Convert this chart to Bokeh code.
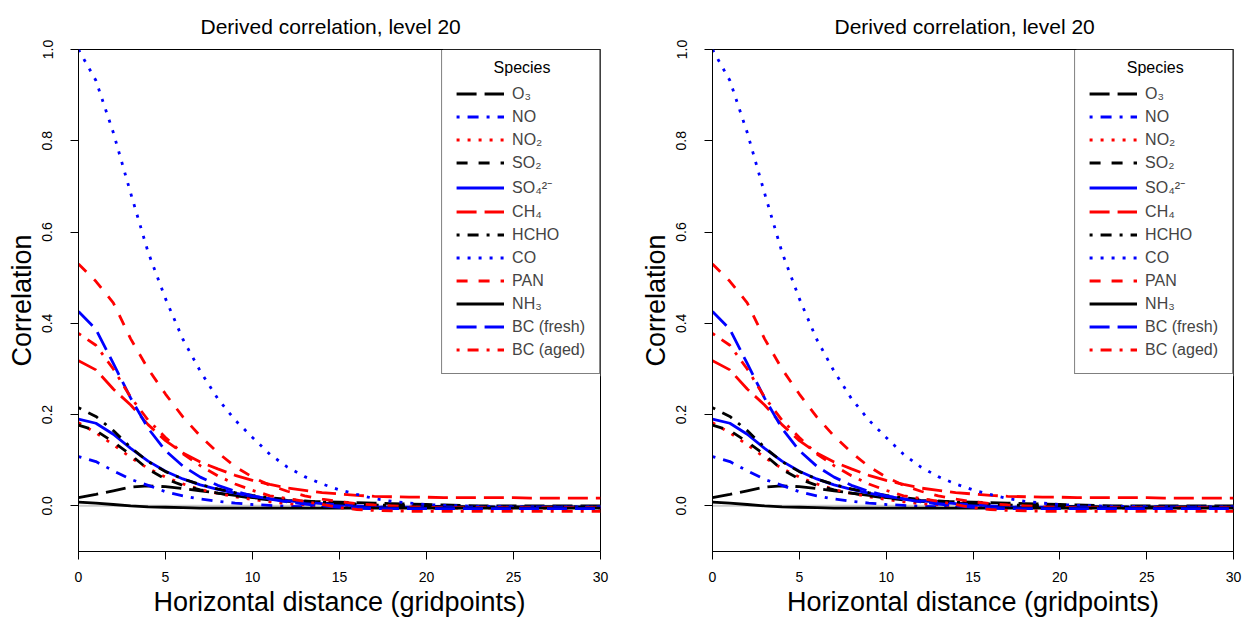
from bokeh.plotting import figure
from bokeh.models import (Range1d, FixedTicker, PrintfTickFormatter, Span, Legend, LegendItem,
                          Label, BoxAnnotation)
from bokeh.layouts import row
from bokeh.embed import file_html
from bokeh.resources import INLINE

# ---------------- data ----------------
distance = list(range(31))

o3 = [0.018, 0.025, 0.033, 0.041, 0.044, 0.042, 0.038, 0.033, 0.028, 0.023, 0.018,
      0.015, 0.012, 0.010, 0.009, 0.008, 0.007, 0.006, 0.005, 0.004, 0.003, 0.002,
      0.001, 0.000, 0.000, 0.000, 0.000, 0.000, 0.000, 0.000, 0.000]
no = [0.108, 0.097, 0.077, 0.058, 0.045, 0.031, 0.022, 0.015, 0.010, 0.006, 0.003,
      0.001, -0.001, -0.002, -0.003, -0.003, -0.003, -0.003, -0.003, -0.003, -0.003,
      -0.003, -0.003, -0.003, -0.003, -0.003, -0.003, -0.003, -0.003, -0.003, -0.003]
no2 = [0.182, 0.160, 0.134, 0.106, 0.082, 0.063, 0.048, 0.036, 0.027, 0.020, 0.014,
       0.009, 0.005, 0.002, 0.000, -0.002, -0.003, -0.004, -0.004, -0.005, -0.005,
       -0.005, -0.005, -0.005, -0.005, -0.005, -0.005, -0.005, -0.005, -0.005, -0.005]
so2 = [0.177, 0.165, 0.140, 0.112, 0.080, 0.059, 0.045, 0.035, 0.028, 0.022, 0.017,
       0.013, 0.010, 0.008, 0.006, 0.004, 0.003, 0.002, 0.001, 0.000, -0.001,
       -0.001, -0.002, -0.002, -0.002, -0.002, -0.002, -0.002, -0.002, -0.002, -0.002]
so4 = [0.190, 0.181, 0.157, 0.126, 0.098, 0.076, 0.059, 0.046, 0.036, 0.028, 0.021,
       0.016, 0.011, 0.008, 0.005, 0.002, 0.000, -0.002, -0.003, -0.003, -0.003,
       -0.003, -0.003, -0.003, -0.003, -0.003, -0.003, -0.003, -0.003, -0.003, -0.003]
ch4 = [0.318, 0.298, 0.256, 0.221, 0.178, 0.143, 0.116, 0.096, 0.081, 0.067, 0.056,
       0.047, 0.039, 0.034, 0.029, 0.026, 0.023, 0.021, 0.020, 0.019, 0.019,
       0.018, 0.018, 0.018, 0.018, 0.018, 0.017, 0.017, 0.017, 0.017, 0.017]
hcho = [0.215, 0.196, 0.165, 0.128, 0.097, 0.075, 0.059, 0.047, 0.037, 0.029, 0.023,
        0.018, 0.014, 0.011, 0.008, 0.006, 0.004, 0.002, 0.001, 0.000, -0.001,
        -0.001, -0.002, -0.002, -0.002, -0.002, -0.002, -0.002, -0.002, -0.002, -0.002]
co = [1.000, 0.932, 0.818, 0.685, 0.556, 0.454, 0.365, 0.295, 0.235, 0.188, 0.150,
      0.113, 0.085, 0.064, 0.048, 0.035, 0.025, 0.016, 0.010, 0.006, 0.003,
      0.001, 0.000, -0.001, -0.001, -0.002, -0.002, -0.002, -0.002, -0.002, -0.002]
pan = [0.530, 0.492, 0.445, 0.366, 0.300, 0.245, 0.195, 0.153, 0.117, 0.086, 0.063,
       0.045, 0.032, 0.022, 0.015, 0.009, 0.005, 0.002, 0.000, -0.002, -0.003,
       -0.004, -0.004, -0.004, -0.004, -0.004, -0.004, -0.004, -0.004, -0.004, -0.004]
nh3 = [0.008, 0.006, 0.003, 0.000, -0.002, -0.003, -0.004, -0.005, -0.005, -0.005, -0.005,
       -0.005, -0.005, -0.005, -0.005, -0.005, -0.005, -0.005, -0.005, -0.005, -0.005,
       -0.005, -0.005, -0.005, -0.005, -0.005, -0.005, -0.005, -0.005, -0.005, -0.005]
bc_fresh = [0.426, 0.387, 0.312, 0.236, 0.170, 0.121, 0.087, 0.063, 0.045, 0.032, 0.022,
            0.015, 0.009, 0.004, 0.000, -0.003, -0.005, -0.006, -0.006, -0.006, -0.006,
            -0.006, -0.006, -0.006, -0.006, -0.006, -0.006, -0.006, -0.006, -0.006, -0.006]
bc_aged = [0.378, 0.352, 0.300, 0.238, 0.188, 0.150, 0.114, 0.088, 0.066, 0.048, 0.034,
           0.022, 0.016, 0.010, 0.003, -0.004, -0.008, -0.010, -0.011, -0.012, -0.012,
           -0.012, -0.012, -0.012, -0.012, -0.012, -0.012, -0.012, -0.012, -0.012, -0.012]

species_labels = ["O₃", "NO", "NO₂", "SO₂", "SO₄²⁻", "CH₄", "HCHO", "CO", "PAN", "NH₃",
                  "BC (fresh)", "BC (aged)"]
series = [o3, no, no2, so2, so4, ch4, hcho, co, pan, nh3, bc_fresh, bc_aged]

x_ticks = [0, 5, 10, 15, 20, 25, 30]
y_ticks = [0.0, 0.2, 0.4, 0.6, 0.8, 1.0]

# ---------------- styles ----------------
colors = ["black", "blue", "red"]
dashes = ["20 8", "3 8 11 8", "3 8", "11 11", "solid"]   # longdash, dotdash, dotted, dashed, solid
FONT = "Liberation Sans"


def make_panel(width, border_left, border_right):
    p = figure(width=width, height=619, output_backend="svg", toolbar_location=None,
               x_range=Range1d(0, 30), y_range=Range1d(-0.1, 1.0),
               min_border_left=border_left, min_border_right=border_right,
               min_border_top=49, min_border_bottom=0)
    p.title.text = "Derived correlation, level 20"
    p.title.align = "left"
    p.title.offset = 122
    p.title.text_font = FONT
    p.title.text_font_size = "21px"
    p.title.text_font_style = "normal"
    p.title.text_color = "black"
    p.title.standoff = 23

    p.xgrid.visible = False
    p.ygrid.visible = False
    p.outline_line_color = "black"
    p.outline_line_width = 1
    p.background_fill_color = "white"
    p.border_fill_color = "white"

    for ax in (p.xaxis[0], p.yaxis[0]):
        ax.major_tick_out = 8
        ax.major_tick_in = 0
        ax.minor_tick_out = 0
        ax.minor_tick_in = 0
        ax.major_tick_line_color = "black"
        ax.axis_line_color = "black"
        ax.major_label_text_font = FONT
        ax.major_label_text_font_size = "14px"
        ax.major_label_text_color = "black"
        ax.axis_label_text_font = FONT
        ax.axis_label_text_font_size = "27px"
        ax.axis_label_text_font_style = "normal"
        ax.axis_label_text_color = "black"

    p.xaxis.ticker = FixedTicker(ticks=x_ticks)
    p.xaxis.formatter = PrintfTickFormatter(format="%d")
    p.xaxis.axis_label = "Horizontal distance (gridpoints)"
    p.xaxis.major_label_standoff = 12
    p.xaxis.axis_label_standoff = 2

    p.yaxis.ticker = FixedTicker(ticks=y_ticks)
    p.yaxis.formatter = PrintfTickFormatter(format="%.1f")
    p.yaxis.axis_label = "Correlation"
    p.yaxis.major_label_orientation = "vertical"
    p.yaxis.major_label_standoff = 18
    p.yaxis.axis_label_standoff = 3

    zero = Span(location=0, dimension="width", line_color="#cccccc", line_width=2, level="underlay")
    p.add_layout(zero)

    items = []
    for i, (lab, vals) in enumerate(zip(species_labels, series)):
        r = p.line(distance, vals, line_color=colors[i % 3], line_width=2.8,
                   line_dash=dashes[i % 5])
        items.append(LegendItem(label=lab, renderers=[r]))

    # opaque white fill behind the legend (above the curves); the legend draws the border
    box = BoxAnnotation(left=20.95, right=30, top=1.0, bottom=0.284,
                        fill_color="white", fill_alpha=1.0,
                        line_color=None, level="guide")
    p.add_layout(box)

    legend = Legend(items=items, location="top_right", margin=0, padding=14, spacing=4,
                    glyph_width=48, glyph_height=19, label_height=19, label_standoff=8,
                    label_text_font=FONT, label_text_font_size="16px",
                    border_line_color="black", border_line_width=1,
                    background_fill_alpha=0.0,
                    title=" ", title_text_font=FONT, title_text_font_size="16px",
                    title_standoff=2)
    p.add_layout(legend)

    heading = Label(x=25.49, y=0.9605, text="Species", text_align="center",
                    text_baseline="middle", text_font=FONT, text_font_size="16px",
                    text_color="black")
    p.add_layout(heading)
    return p


p1 = make_panel(637, 78, 37)
p2 = make_panel(610, 75, 14)
layout = row(p1, p2)

open("out.html", "w").write(file_html(layout, INLINE))
